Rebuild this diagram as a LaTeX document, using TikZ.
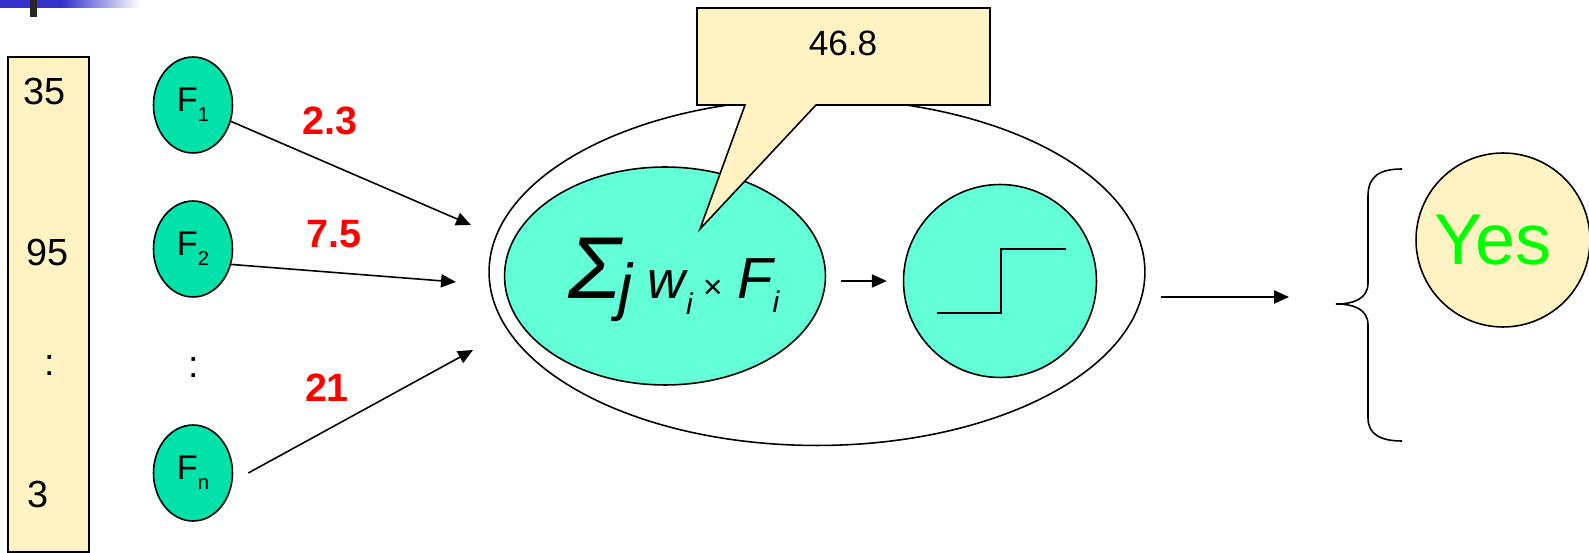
\documentclass[tikz,border=0pt]{standalone}
\usepackage{fontspec}
\setmainfont{Liberation Sans}
\usetikzlibrary{arrows.meta, positioning, calc, shapes.geometric}
\definecolor{slideblue}{HTML}{3333CC}
\definecolor{featgreen}{HTML}{00E2AA}
\definecolor{unitgreen}{HTML}{63FFD6}
\definecolor{paleyellow}{HTML}{FFF3C4}
\definecolor{yesgreen}{HTML}{00FF00}

\begin{document}
\begin{tikzpicture}[
  x=0.02cm, y=-0.02cm,
  line width=0.9pt,
  feat/.style={
    ellipse, draw, fill=featgreen,
    minimum width=1.58cm, minimum height=1.92cm, inner sep=0pt,
    font=\fontsize{19.5}{21}\selectfont
  },
  unit/.style={ellipse, draw, fill=unitgreen, inner sep=0pt},
  num/.style={font=\fontsize{21.5}{24}\selectfont, inner sep=0pt},
  weight/.style={font=\fontsize{22.5}{24}\selectfont\bfseries, text=red, inner sep=0pt},
  arr/.style={-{Triangle[length=8.5pt,width=7.5pt]}}
]
  \useasboundingbox (0,0) rectangle (1589,553);

  % slide decoration
  \fill[slideblue] (0,0) rectangle (62,8);
  \shade[left color=slideblue, right color=white] (62,0) rectangle (140,8);
  \fill[black!85] (30,0) rectangle (37,17);

  % input vector
  \node[draw, fill=paleyellow, minimum width=1.62cm, minimum height=9.9cm] (inbox) at (48.5,304.5) {};
  \node[num] (v1) at (45,92) {35};
  \node[num] (v2) at (48,253) {95};
  \node[num] (vdots) at (50,366) {:};
  \node[num] (vn) at (38,494) {3};

  % features
  \node[feat] (f1) at (193,105) {F\raisebox{-5.5pt}{\fontsize{11.5}{12}\selectfont 1}};
  \node[feat] (f2) at (193,249) {F\raisebox{-5.5pt}{\fontsize{11.5}{12}\selectfont 2}};
  \node[num] (fdots) at (194,368) {:};
  \node[feat] (fn) at (193,473) {F\raisebox{-5.5pt}{\fontsize{11.5}{12}\selectfont n}};

  % perceptron
  \node[ellipse, draw, minimum width=13.12cm, minimum height=6.94cm] (outer) at (817,272) {};
  \node[unit, minimum width=6.42cm, minimum height=4.36cm] (sum) at (665,276) {};
  \node[font=\itshape, inner sep=0pt] (formula) at (674,280) {{\fontsize{50}{50}\selectfont Σ}\hspace{-0.05cm}\raisebox{-6pt}{\fontsize{36}{36}\selectfont j}\hspace{0.3cm}{\fontsize{30}{30}\selectfont w\raisebox{-0.3em}{\fontsize{17}{17}\selectfont i}}\hspace{0.2cm}{\fontsize{19}{19}\selectfont ×}\hspace{0.3cm}{\fontsize{33}{33}\selectfont F\raisebox{-0.25em}{\fontsize{17}{17}\selectfont i}}};
  \node[unit, minimum width=3.86cm, minimum height=3.86cm] (step) at (1000,281) {};
  \draw (937,313) -- (1001,313) -- (1001,249) -- (1066,249);

  % callout
  \filldraw[fill=paleyellow] (697,8) -- (990,8) -- (990,105) -- (816,105) -- (700,229) -- (745,105) -- (697,105) -- cycle;
  \node[num, font=\fontsize{20}{22}\selectfont] (val) at (843,43) {46.8};

  \coordinate (in1) at (471,225);
  \coordinate (in2) at (456,282);
  \coordinate (in3) at (473,350);
  \coordinate (res) at (1289,297);

  \draw[arr] (f1) -- (in1);
  \draw[arr] (f2.-22) -- (in2);
  \draw[arr] ([xshift=0.3cm]fn.east) -- (in3);
  \draw[arr, shorten <=0.3cm, shorten >=0.32cm] (sum.east |- step.west) -- (step.west);
  \draw[arr] ($(outer.east |- res)+(15,0)$) -- (res);

  \node[weight] (w1) at (330,121) {2.3};
  \node[weight] (w2) at (334,234) {7.5};
  \node[weight] (wn) at (327,388) {21};

  % output
  \draw (1402,169) .. controls (1380,169) and (1368,176) .. (1368,196) -- (1368,283)
    .. controls (1368,298) and (1355,304) .. (1336,304)
    .. controls (1355,304) and (1368,310) .. (1368,325) -- (1368,418)
    .. controls (1368,434) and (1380,441) .. (1402,441);
  \node[circle, draw, fill=paleyellow, minimum size=3.48cm, inner sep=0pt, text=yesgreen,
    font=\fontsize{41}{44}\selectfont] (yes) at (1503,240) {Yes\hspace*{0.4cm}};
\end{tikzpicture}
\end{document}
